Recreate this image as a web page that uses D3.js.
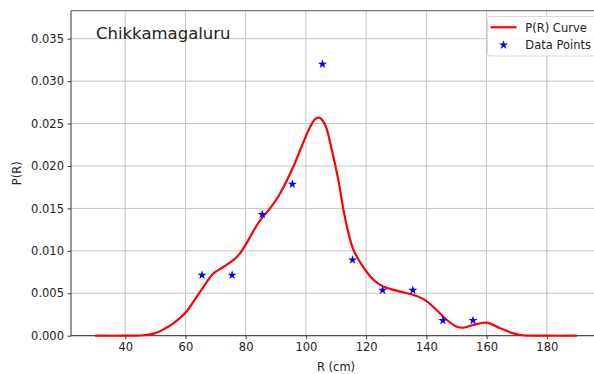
<!DOCTYPE html>
<html>
<head>
<meta charset="utf-8">
<script src="https://cdn.jsdelivr.net/npm/d3@7"></script>
<style>
  html, body { margin: 0; padding: 0; background: #fff; }
  svg { display: block; font-family: "DejaVu Sans", sans-serif; }
</style>
</head>
<body>
<svg id="chart" width="594" height="374"></svg>
<script>
// Histogram-derived probability density at bin centres (R in cm)
const pointR = [65.5, 75.5, 85.5, 95.5, 105.5, 115.5, 125.5, 135.5, 145.5, 155.5];
const pointP = [0.00714, 0.00714, 0.01429, 0.01786, 0.03200, 0.00893, 0.00536, 0.00536, 0.00179, 0.00179];

// Smoothed P(R) curve samples
const curveR = [30, 40, 46, 50, 53, 56, 60, 63, 65.9, 69.2, 72.6, 75.9, 78.1, 80.3, 82.5, 84.8, 88.1, 91, 95.3, 98.6,
  101.4, 103, 104.3, 105.5, 106.8, 108.6, 110.8, 112.4, 113.8, 115.7, 119, 122.4, 125.7, 131.3, 135.7,
  139.6, 143.5, 146.8, 150.1, 152.3, 155.6, 160, 164.5, 168.9, 172, 180, 190];
const curveP = [0, 0, 0.00005, 0.0003, 0.0008, 0.00146, 0.0027, 0.0042, 0.0057, 0.0073, 0.0081, 0.0089, 0.0097, 0.0109, 0.0123, 0.0136, 0.0150, 0.0165, 0.0195, 0.0223,
  0.0246, 0.0255, 0.0257, 0.0254, 0.0245, 0.0219, 0.0183, 0.0150, 0.0126, 0.0102, 0.0081, 0.0066, 0.0058, 0.0052, 0.0048,
  0.0042, 0.0030, 0.00185, 0.00106, 0.00094, 0.00126, 0.00153, 0.00087, 0.00028, 0.00005, 0, 0];

const xTicks = [40, 60, 80, 100, 120, 140, 160, 180];
const yTicks = [0, 0.005, 0.010, 0.015, 0.020, 0.025, 0.030, 0.035];

const titleText = "Chikkamagaluru";
const xLabel = "R (cm)";
const yLabel = "P(R)";
const legendLabels = ["P(R) Curve", "Data Points"];

const margin = { left: 71, top: 10.7, right: 601, bottom: 335.7 };
const svg = d3.select("#chart");

const x = d3.scaleLinear().domain([22, 198]).range([margin.left, margin.right]);
const y = d3.scaleLinear().domain([0, 0.0383]).range([margin.bottom, margin.top]);

const fontSize = 11.5;

// grid
const grid = svg.append("g");
grid.selectAll("line.gx").data(xTicks).join("line")
  .attr("x1", d => x(d)).attr("x2", d => x(d))
  .attr("y1", margin.top).attr("y2", margin.bottom)
  .attr("stroke", "#c4c4c4").attr("stroke-width", 1);
grid.selectAll("line.gy").data(yTicks).join("line")
  .attr("x1", margin.left).attr("x2", margin.right)
  .attr("y1", d => y(d)).attr("y2", d => y(d))
  .attr("stroke", "#c4c4c4").attr("stroke-width", 1);

// axes
const xAxis = d3.axisBottom(x).tickValues(xTicks).tickFormat(d3.format("d")).tickSizeOuter(0).tickSize(3.5).tickPadding(3.5);
const yAxis = d3.axisLeft(y).tickValues(yTicks).tickFormat(d3.format(".3f")).tickSizeOuter(0).tickSize(3.5).tickPadding(3.5);

const gx = svg.append("g").attr("transform", `translate(0,${margin.bottom})`).call(xAxis);
const gy = svg.append("g").attr("transform", `translate(${margin.left},0)`).call(yAxis);
[gx, gy].forEach(g => {
  g.select(".domain").remove();
  g.selectAll("line").attr("stroke", "#222").attr("stroke-width", 0.9);
  g.selectAll("text").attr("font-size", fontSize).attr("fill", "#222").attr("font-family", "DejaVu Sans");
});

// spines
svg.append("line").attr("x1", margin.left).attr("x2", margin.left).attr("y1", margin.top).attr("y2", margin.bottom)
  .attr("stroke", "#333").attr("stroke-width", 1);
svg.append("line").attr("x1", margin.left).attr("x2", margin.right).attr("y1", margin.bottom).attr("y2", margin.bottom)
  .attr("stroke", "#333").attr("stroke-width", 1);
svg.append("line").attr("x1", margin.left).attr("x2", margin.right).attr("y1", margin.top).attr("y2", margin.top)
  .attr("stroke", "#555").attr("stroke-width", 1);

// curve
const curveData = curveR.map((r, i) => [r, curveP[i]]);
const line = d3.line().x(d => x(d[0])).y(d => y(d[1])).curve(d3.curveCatmullRom.alpha(0.5));
svg.append("path").datum(curveData).attr("d", line)
  .attr("fill", "none").attr("stroke", "#ff0000").attr("stroke-width", 2.2)
  .attr("stroke-linejoin", "round").attr("stroke-linecap", "butt");

// data points
const star = d3.symbol().type(d3.symbolStar).size(26);
svg.append("g").selectAll("path").data(pointR.map((r, i) => [r, pointP[i]])).join("path")
  .attr("d", star)
  .attr("transform", d => `translate(${x(d[0])},${y(d[1])})`)
  .attr("fill", "#0000ff");

// title
svg.append("text").attr("x", 96).attr("y", 38.5).text(titleText)
  .attr("font-size", 16.5).attr("fill", "#222");

// axis labels
svg.append("text").attr("x", (margin.left + margin.right) / 2).attr("y", 371)
  .attr("text-anchor", "middle").attr("font-size", fontSize).attr("fill", "#222").text(xLabel);
svg.append("text").attr("transform", `translate(21,${(margin.top + margin.bottom) / 2}) rotate(-90)`)
  .attr("text-anchor", "middle").attr("font-size", fontSize).attr("fill", "#222").text(yLabel);

// legend
const lg = svg.append("g");
lg.append("rect").attr("x", 487.5).attr("y", 16.5).attr("width", 108).attr("height", 39.5).attr("rx", 2.5)
  .attr("fill", "#fff").attr("fill-opacity", 0.8).attr("stroke", "#d8d8d8").attr("stroke-width", 1);
lg.append("line").attr("x1", 490.5).attr("x2", 516.5).attr("y1", 27.3).attr("y2", 27.3)
  .attr("stroke", "#ff0000").attr("stroke-width", 2.2);
lg.append("path").attr("d", star).attr("transform", "translate(503.5,45)").attr("fill", "#0000ff");
lg.append("text").attr("x", 525.3).attr("y", 31.5).attr("font-size", fontSize).attr("fill", "#222").text(legendLabels[0]);
lg.append("text").attr("x", 525.3).attr("y", 49).attr("font-size", fontSize).attr("fill", "#222").text(legendLabels[1]);
</script>
</body>
</html>
